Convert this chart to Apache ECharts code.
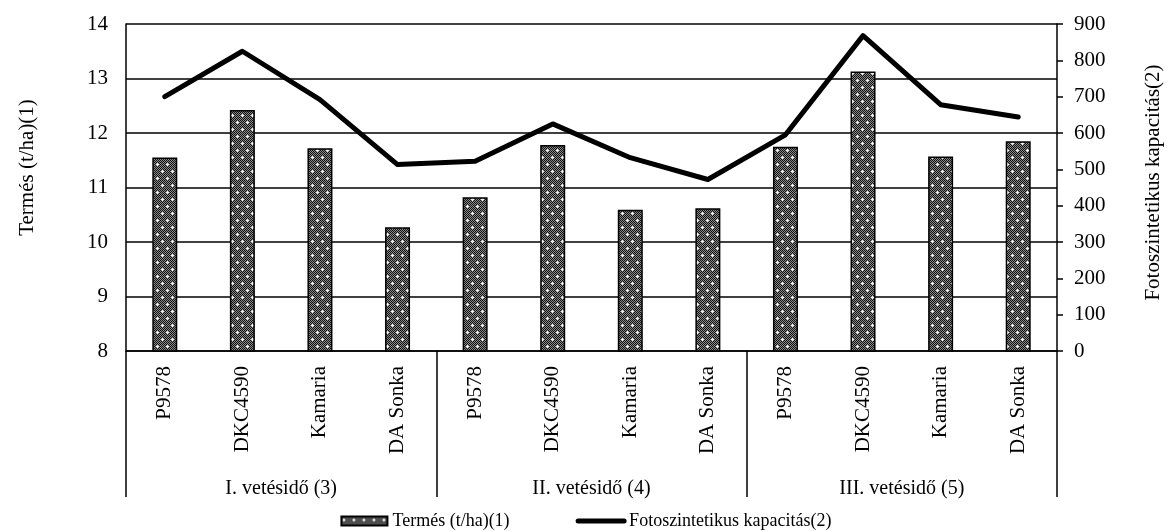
<!DOCTYPE html>
<html>
<head>
<meta charset="utf-8">
<script src="https://cdn.jsdelivr.net/npm/echarts@6/dist/echarts.min.js"></script>
<style>
  html, body { margin: 0; padding: 0; background: #fff; }
  #chart { width: 1172px; height: 531px; }
</style>
</head>
<body>
<div id="chart"></div>
<script>
// fajták és vetésidők
var hybrids = ['P9578', 'DKC4590', 'Kamaria', 'DA Sonka',
               'P9578', 'DKC4590', 'Kamaria', 'DA Sonka',
               'P9578', 'DKC4590', 'Kamaria', 'DA Sonka'];
var sowingDates = ['I. vetésidő (3)', 'II. vetésidő (4)', 'III. vetésidő (5)'];

// Termés (t/ha)
var yieldValues = [11.55, 12.42, 11.72, 10.27, 10.82, 11.78, 10.59, 10.62, 11.75, 13.13, 11.57, 11.85];
// Fotoszintetikus kapacitás
var photoValues = [700, 825, 692, 513, 522, 625, 532, 472, 595, 868, 678, 644];

var serif = 'Liberation Serif';

// dark dotted fill like the scanned bars
function makePattern() {
  var c = document.createElement('canvas');
  c.width = 10;
  c.height = 14;
  var ctx = c.getContext('2d');
  ctx.fillStyle = '#8a8a8a';
  ctx.fillRect(0, 0, 10, 14);
  ctx.fillStyle = '#111';
  for (var x = 0; x < 10; x++) {
    for (var y = 0; y < 14; y++) {
      if ((x + y) % 2 === 0) ctx.fillRect(x, y, 1, 1);
    }
  }
  ctx.fillStyle = '#eee';
  [[2, 3], [7, 10]].forEach(function (p) {
    ctx.fillRect(p[0] - 1, p[1], 3, 1);
    ctx.fillRect(p[0], p[1] - 1, 1, 3);
  });
  return c;
}

var chart = echarts.init(document.getElementById('chart'), null, { renderer: 'canvas' });

var option = {
  backgroundColor: '#fff',
  animation: false,
  textStyle: { fontFamily: serif, color: '#000' },
  grid: { left: 126, right: 106, top: 24, bottom: 180, containLabel: false },
  legend: {
    bottom: -4,
    left: 'center',
    itemGap: 66,
    itemWidth: 46,
    itemHeight: 9,
    textStyle: { fontFamily: serif, fontSize: 18, color: '#000' },
    data: [
      { name: 'Termés (t/ha)(1)', icon: 'rect' },
      {
        name: 'Fotoszintetikus kapacitás(2)',
        itemStyle: { opacity: 0 },
        lineStyle: { width: 5, color: '#000' }
      }
    ]
  },
  xAxis: [
    {
      type: 'category',
      data: hybrids,
      axisLine: { show: true, lineStyle: { color: '#000', width: 1.5 } },
      axisTick: { show: false },
      axisLabel: {
        rotate: 90,
        margin: 15,
        fontFamily: serif,
        fontSize: 21,
        color: '#000',
        interval: 0
      }
    },
    {
      type: 'category',
      data: sowingDates,
      position: 'bottom',
      offset: 146,
      axisLine: { show: false },
      axisTick: { show: true, inside: true, length: 146, lineStyle: { color: '#000', width: 1.5 } },
      axisLabel: {
        inside: true,
        margin: -2,
        fontFamily: serif,
        fontSize: 20,
        color: '#000'
      }
    }
  ],
  yAxis: [
    {
      type: 'value',
      min: 8,
      max: 14,
      interval: 1,
      name: 'Termés (t/ha)(1)',
      nameLocation: 'middle',
      nameGap: 88,
      nameTextStyle: { fontFamily: serif, fontSize: 21, color: '#000', padding: [0, 0, 0, 40] },
      axisLine: { show: true, lineStyle: { color: '#000', width: 1.5 } },
      axisTick: { show: false },
      axisLabel: { margin: 18, fontFamily: serif, fontSize: 21, color: '#000' },
      splitLine: { show: true, lineStyle: { color: '#000', width: 1.5 } }
    },
    {
      type: 'value',
      min: 0,
      max: 900,
      interval: 100,
      position: 'right',
      name: 'Fotoszintetikus kapacitás(2)',
      nameLocation: 'middle',
      nameGap: 86,
      nameRotate: 90,
      nameTextStyle: { fontFamily: serif, fontSize: 21, color: '#000', padding: [0, 0, 0, 10] },
      axisLine: { show: true, lineStyle: { color: '#000', width: 1.5 } },
      axisTick: { show: true, length: 6, lineStyle: { color: '#000', width: 1.5 } },
      axisLabel: { margin: 17, fontFamily: serif, fontSize: 21, color: '#000' },
      splitLine: { show: false }
    }
  ],
  series: [
    {
      name: 'Termés (t/ha)(1)',
      type: 'bar',
      xAxisIndex: 0,
      yAxisIndex: 0,
      barWidth: 25,
      data: yieldValues,
      itemStyle: {
        color: { image: makePattern(), repeat: 'repeat' },
        borderColor: '#000',
        borderWidth: 1.5
      }
    },
    {
      name: 'Fotoszintetikus kapacitás(2)',
      type: 'line',
      xAxisIndex: 0,
      yAxisIndex: 1,
      data: photoValues,
      symbol: 'none',
      z: 5,
      lineStyle: { color: '#000', width: 5, cap: 'round', join: 'round' },
      itemStyle: { color: '#000' }
    }
  ]
};

chart.setOption(option);
</script>
</body>
</html>
